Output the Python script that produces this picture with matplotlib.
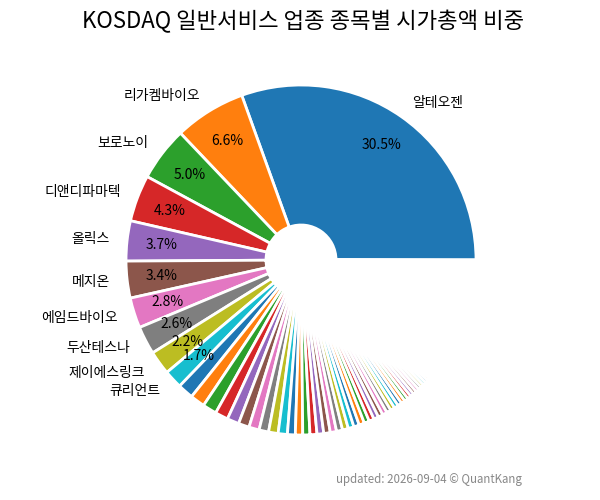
import matplotlib
matplotlib.use("Agg")
import matplotlib.pyplot as plt

plt.rcParams['font.family'] = ['Noto Sans CJK KR', 'DejaVu Sans']

title = "KOSDAQ 일반서비스 업종 종목별 시가총액 비중"
footer = "updated: 2026-09-04 © QuantKang"

# Top 10 companies (share of sector market cap, %)
top_names = ["알테오젠", "리가켐바이오", "보로노이", "디앤디파마텍", "올릭스",
             "메지온", "에임드바이오", "두산테스나", "제이에스링크", "큐리언트"]
top_shares = [30.5, 6.6, 5.0, 4.3, 3.7, 3.4, 2.8, 2.6, 2.2, 1.7]

# Remaining (unlabelled) companies (%)
mid_shares = [1.45, 1.35, 1.30, 1.20, 1.10, 1.00, 0.95, 0.88, 0.88, 0.85, 0.72]
small_shares = [0.68, 0.66, 0.64, 0.62, 0.60, 0.58, 0.56, 0.54, 0.53, 0.51,
                0.50, 0.48, 0.47, 0.45, 0.44, 0.43, 0.41, 0.40, 0.39, 0.38,
                0.36, 0.35, 0.34, 0.33, 0.32, 0.31, 0.30, 0.29, 0.28, 0.27,
                0.26, 0.25, 0.24, 0.23, 0.22]
tiny_shares = [0.21, 0.21, 0.20, 0.20, 0.20, 0.19, 0.19, 0.19, 0.18, 0.18,
               0.18, 0.17, 0.17, 0.17, 0.16, 0.16, 0.16, 0.16, 0.15, 0.15,
               0.15, 0.15, 0.14, 0.14, 0.14, 0.14, 0.14, 0.13, 0.13, 0.13,
               0.13, 0.13, 0.12, 0.12, 0.12, 0.12, 0.12, 0.12, 0.11, 0.11,
               0.12, 0.12, 0.12, 0.12, 0.12, 0.12, 0.12, 0.12, 0.12,
               0.11, 0.11, 0.11, 0.11, 0.10, 0.10, 0.10, 0.10, 0.10, 0.10,
               0.10, 0.09, 0.09, 0.09, 0.09, 0.09, 0.09, 0.09, 0.08, 0.08,
               0.08, 0.08, 0.08, 0.08, 0.08, 0.07, 0.07, 0.07, 0.07, 0.07,
               0.07, 0.07, 0.06, 0.06, 0.06, 0.06, 0.06, 0.06, 0.05, 0.05,
               0.05, 0.05, 0.05, 0.04, 0.04, 0.04, 0.03, 0.03, 0.02, 0.02]

values = top_shares + mid_shares + small_shares + tiny_shares
labels = top_names + [""] * (len(values) - len(top_names))

fig = plt.figure(figsize=(6, 5), dpi=100)
ax = fig.add_axes([0.1371, 0.0425, 0.7292, 0.875])

def pct_fmt(p):
    return f"{p:.1f}%" if p >= 1.6 else ""

wedges, texts, autotexts = ax.pie(
    values, labels=labels, autopct=pct_fmt, startangle=0, counterclock=True,
    pctdistance=0.8, labeldistance=1.1,
    wedgeprops=dict(width=0.8, edgecolor="white", linewidth=2),
    textprops=dict(fontsize=10, color="black"))

ax.set_xlim(-1.25, 1.25)
ax.set_ylim(-1.25, 1.25)
ax.set_aspect("equal")

fig.text(303.5 / 600, 1 - 22 / 500, title, ha="center", va="center", fontsize=16)
fig.text(522 / 600, 1 - 479 / 500, footer, ha="right", va="center",
         fontsize=8.3, color="#888888")

fig.savefig("out.png", dpi=100)
